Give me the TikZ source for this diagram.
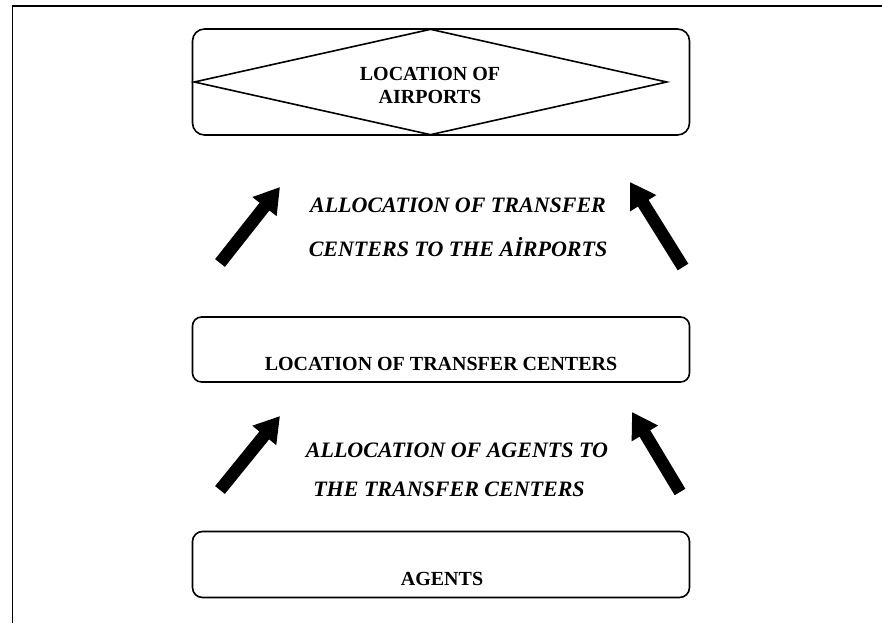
\documentclass[tikz,border=0pt]{standalone}
\usepackage{fontspec}
\setmainfont{Liberation Serif}
\usetikzlibrary{arrows.meta,shapes.geometric}
\begin{document}
\begin{tikzpicture}[x=1pt,y=-1pt,
  stage/.style={draw, line width=1.6pt, inner sep=0pt},
  boxtext/.style={font=\bfseries\fontsize{20}{23}\selectfont, align=center, inner sep=0pt},
  flowtext/.style={font=\bfseries\itshape\fontsize{22}{36}\selectfont, align=center, inner sep=0pt},
  bigarrow/.style={line width=12.5pt, -{Triangle[length=25pt,width=29pt]}}
]
\useasboundingbox (0,0) rectangle (882,623);

% open frame: top and left edges only
\coordinate (frameBL) at (12.5,623);
\coordinate (frameTL) at (12.5,6);
\coordinate (frameTR) at (882,6);
\draw[line width=1.6pt] (frameBL) -- (frameTL) -- (frameTR);

% stage boxes
\node[stage, rounded corners=12pt, minimum width=497pt, minimum height=106pt] (airports) at (441,82) {};
\node[stage, diamond, minimum width=473pt, minimum height=106pt] (airportsdia) at (430.5,82) {};
\node[boxtext, anchor=north] (airportstext) at (430,67.3) {LOCATION OF\\AIRPORTS};

\node[stage, rounded corners=9pt, minimum width=497pt, minimum height=65pt] (centers) at (441,349.5) {};
\node[boxtext, anchor=base] (centerstext) at (441,370) {LOCATION OF TRANSFER CENTERS};

\node[stage, rounded corners=10pt, minimum width=497pt, minimum height=66pt] (agents) at (441,564.5) {};
\node[boxtext, anchor=base] (agentstext) at (442,585) {AGENTS};

% labels between the stages
\node[flowtext, anchor=north] (upperflow) at (458,197.5)
  {ALLOCATION OF TRANSFER\\[8pt]CENTERS TO THE AİRPORTS};
\node[flowtext, anchor=north] (lowerflow) at (457,442.5)
  {ALLOCATION OF AGENTS TO\\[3pt]THE TRANSFER CENTERS\hspace*{16pt}};

% thick arrows pointing upwards
\coordinate (ulS) at (220,263); \coordinate (ulE) at (280,187);
\coordinate (urS) at (683,267); \coordinate (urE) at (630,182);
\coordinate (llS) at (220,490); \coordinate (llE) at (280,416);
\coordinate (lrS) at (680,492); \coordinate (lrE) at (632,412);
\draw[bigarrow] (ulS) -- (ulE);
\draw[bigarrow] (urS) -- (urE);
\draw[bigarrow] (llS) -- (llE);
\draw[bigarrow] (lrS) -- (lrE);
\end{tikzpicture}
\end{document}
